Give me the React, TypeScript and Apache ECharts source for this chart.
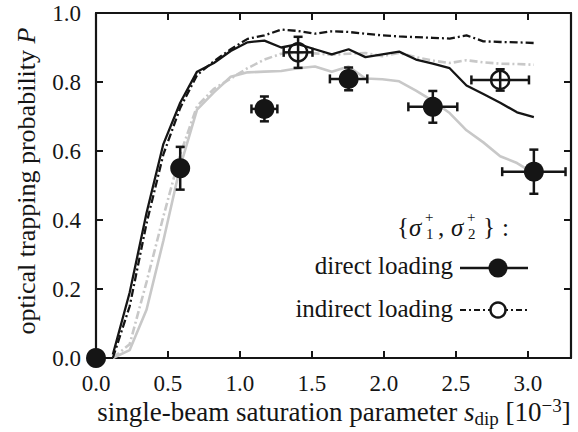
import React, { useEffect, useRef } from 'react';
import * as echarts from 'echarts';

const sGrid = [0.117, 0.234, 0.351, 0.468, 0.585, 0.702, 0.819, 0.936, 1.053, 1.17, 1.287, 1.404, 1.521, 1.638, 1.755, 1.872, 1.989, 2.106, 2.223, 2.34, 2.457, 2.574, 2.691, 2.808, 2.925, 3.042];
const blackSolid = [0.01, 0.19, 0.42, 0.62, 0.74, 0.83, 0.855, 0.89, 0.915, 0.92, 0.9, 0.91, 0.895, 0.88, 0.895, 0.872, 0.88, 0.888, 0.865, 0.853, 0.84, 0.79, 0.765, 0.74, 0.712, 0.698];
const blackDashDot = [0.0, 0.15, 0.39, 0.59, 0.725, 0.82, 0.86, 0.895, 0.925, 0.935, 0.952, 0.948, 0.94, 0.947, 0.945, 0.94, 0.935, 0.932, 0.93, 0.928, 0.926, 0.935, 0.918, 0.916, 0.915, 0.913];
const graySolid = [0.0, 0.023, 0.14, 0.34, 0.555, 0.72, 0.77, 0.815, 0.828, 0.83, 0.832, 0.84, 0.845, 0.83, 0.845, 0.81, 0.808, 0.802, 0.775, 0.745, 0.71, 0.66, 0.625, 0.585, 0.565, 0.535];
const grayDashDot = [0.0, 0.04, 0.22, 0.41, 0.59, 0.73, 0.78, 0.81, 0.84, 0.865, 0.882, 0.885, 0.883, 0.879, 0.882, 0.884, 0.875, 0.884, 0.872, 0.862, 0.855, 0.863, 0.857, 0.853, 0.852, 0.85];

// [s, P, sErr, PErr]
const directPoints = [
  [0.0, 0.0, 0, 0],
  [0.585, 0.55, 0.044, 0.062],
  [1.17, 0.722, 0.09, 0.036],
  [1.755, 0.809, 0.13, 0.033],
  [2.34, 0.728, 0.17, 0.046],
  [3.042, 0.54, 0.22, 0.064],
];
const indirectPoints = [
  [1.404, 0.886, 0.1, 0.045],
  [2.808, 0.806, 0.2, 0.031],
];

const xTicks = [0, 0.5, 1.0, 1.5, 2.0, 2.5, 3.0];
const yTicks = [0, 0.2, 0.4, 0.6, 0.8, 1.0];

const FONT = 'Liberation Serif';
const INK = '#151515';
const GRAY = '#c8c8c8';
const DASHDOT = [8, 3, 2, 3];

const pair = (xs: number[], ys: number[]) => xs.map((x, i) => [x, ys[i]]);
const tickFmt = (ticks: number[]) => (v: number) =>
  ticks.some((t) => Math.abs(t - v) < 1e-6) ? v.toFixed(1) : '';

export default function App() {
  const ref = useRef<HTMLDivElement>(null);
  useEffect(() => {
    if (!ref.current) return;
    const chart = echarts.init(ref.current, undefined, { renderer: 'svg' });

    const axisCommon = {
      type: 'value' as const,
      axisLine: { show: true, onZero: false, lineStyle: { color: INK, width: 2.2 } },
      axisTick: { show: true, inside: true, length: 7, lineStyle: { color: INK, width: 2 } },
      splitLine: { show: false },
    };

    const errorBars = (pts: number[][]) => ({
      type: 'custom',
      clip: false,
      z: 4,
      data: pts,
      renderItem: (params: any, api: any) => {
        const x = api.value(0), y = api.value(1), ex = api.value(2), ey = api.value(3);
        const cap = 4.5;
        const st = { stroke: INK, lineWidth: 2.5 };
        const children: any[] = [];
        if (ex > 0) {
          const l = api.coord([x - ex, y]);
          const r = api.coord([x + ex, y]);
          children.push({ type: 'line', shape: { x1: l[0], y1: l[1], x2: r[0], y2: r[1] }, style: st });
          children.push({ type: 'line', shape: { x1: l[0], y1: l[1] - cap, x2: l[0], y2: l[1] + cap }, style: st });
          children.push({ type: 'line', shape: { x1: r[0], y1: r[1] - cap, x2: r[0], y2: r[1] + cap }, style: st });
        }
        if (ey > 0) {
          const t = api.coord([x, y + ey]);
          const b = api.coord([x, y - ey]);
          children.push({ type: 'line', shape: { x1: t[0], y1: t[1], x2: b[0], y2: b[1] }, style: st });
          children.push({ type: 'line', shape: { x1: t[0] - cap, y1: t[1], x2: t[0] + cap, y2: t[1] }, style: st });
          children.push({ type: 'line', shape: { x1: b[0] - cap, y1: b[1], x2: b[0] + cap, y2: b[1] }, style: st });
        }
        return { type: 'group', children };
      },
    });

    const txt = (text: string, x: number, y: number, extra: any = {}) => ({
      type: 'text',
      x,
      y,
      z: 10,
      style: {
        text,
        fontFamily: FONT,
        fontSize: 25,
        fill: INK,
        textAlign: 'left',
        textVerticalAlign: 'middle',
        ...extra,
      },
    });

    chart.setOption({
      animation: false,
      backgroundColor: '#ffffff',
      grid: { left: 96, right: 7, top: 13, bottom: 74, containLabel: false },
      xAxis: [
        {
          ...axisCommon,
          min: 0,
          max: 3.3,
          interval: 0.5,
          position: 'bottom',
          axisLabel: { formatter: tickFmt(xTicks), fontFamily: FONT, fontSize: 23, color: INK, margin: 14 },
        },
        {
          ...axisCommon,
          min: 0,
          max: 3.3,
          interval: 0.5,
          position: 'top',
          axisLabel: { show: false },
        },
      ],
      yAxis: [
        {
          ...axisCommon,
          min: 0,
          max: 1,
          interval: 0.2,
          position: 'left',
          axisLabel: { formatter: tickFmt(yTicks), fontFamily: FONT, fontSize: 23, color: INK, margin: 15 },
        },
        {
          ...axisCommon,
          min: 0,
          max: 1,
          interval: 0.2,
          position: 'right',
          axisLabel: { show: false },
        },
      ],
      series: [
        {
          type: 'line', data: pair(sGrid, graySolid), showSymbol: false, z: 1,
          lineStyle: { color: GRAY, width: 2.6 },
        },
        {
          type: 'line', data: pair(sGrid, grayDashDot), showSymbol: false, z: 1,
          lineStyle: { color: GRAY, width: 2.6, type: DASHDOT },
        },
        {
          type: 'line', data: pair(sGrid, blackSolid), showSymbol: false, z: 2,
          lineStyle: { color: INK, width: 2.3 },
        },
        {
          type: 'line', data: pair(sGrid, blackDashDot), showSymbol: false, z: 2,
          lineStyle: { color: INK, width: 2.3, type: DASHDOT },
        },
        errorBars(directPoints),
        errorBars(indirectPoints),
        {
          type: 'scatter', data: directPoints.map((p) => [p[0], p[1]]), symbol: 'circle', symbolSize: 20,
          clip: false, z: 5, itemStyle: { color: INK, opacity: 1 },
        },
        {
          type: 'scatter', data: indirectPoints.map((p) => [p[0], p[1]]), symbol: 'circle', symbolSize: 18,
          clip: false, z: 5, itemStyle: { color: 'rgba(0,0,0,0)', borderColor: INK, borderWidth: 2.5, opacity: 1 },
        },
      ],
      graphic: [
        {
          type: 'text',
          x: 26,
          y: 181,
          rotation: Math.PI / 2,
          style: {
            text: 'optical trapping probability {i|P}',
            fontFamily: FONT,
            fontSize: 26,
            fill: INK,
            textAlign: 'center',
            textVerticalAlign: 'middle',
            rich: { i: { fontStyle: 'italic', fontFamily: FONT, fontSize: 26 } },
          },
        },
        {
          type: 'text',
          x: 334,
          y: 412,
          style: {
            text: 'single-beam saturation parameter {i|s}{sub|dip} [10{sup|−3}]',
            fontFamily: FONT,
            fontSize: 27,
            fill: INK,
            textAlign: 'center',
            textVerticalAlign: 'middle',
            lineHeight: 32,
            rich: {
              i: { fontStyle: 'italic', fontFamily: FONT, fontSize: 27, lineHeight: 32 },
              sub: { fontFamily: FONT, fontSize: 19, verticalAlign: 'bottom', lineHeight: 32 },
              sup: { fontFamily: FONT, fontSize: 19, verticalAlign: 'top', lineHeight: 32 },
            },
          },
        },
        // legend header {σ1+, σ2+}:
        txt('{', 397, 226),
        txt('σ', 409, 227, { fontStyle: 'italic' }),
        txt('+', 425, 217, { fontSize: 15, lineHeight: 15 }),
        txt('1', 426, 234, { fontSize: 15, lineHeight: 15 }),
        txt(',', 438, 227),
        txt('σ', 451, 227, { fontStyle: 'italic' }),
        txt('+', 467, 217, { fontSize: 15, lineHeight: 15 }),
        txt('2', 468, 234, { fontSize: 15, lineHeight: 15 }),
        txt('}', 483, 226),
        txt(':', 502, 227),
        txt('direct loading', 453, 265, { textAlign: 'right' }),
        txt('indirect loading', 453, 308, { textAlign: 'right' }),
        {
          type: 'line', z: 10,
          shape: { x1: 460, y1: 268, x2: 528, y2: 268 },
          style: { stroke: INK, lineWidth: 2.5 },
        },
        { type: 'circle', z: 11, shape: { cx: 498, cy: 268, r: 9.5 }, style: { fill: INK } },
        {
          type: 'line', z: 10,
          shape: { x1: 460, y1: 310, x2: 527, y2: 310 },
          style: { stroke: INK, lineWidth: 2, lineDash: [6, 3, 2, 3] },
        },
        {
          type: 'circle', z: 11, shape: { cx: 498, cy: 310, r: 7.5 },
          style: { fill: '#ffffff', stroke: INK, lineWidth: 2.5 },
        },
      ],
    });

    return () => chart.dispose();
  }, []);

  return <div ref={ref} style={{ width: 578, height: 432, position: 'absolute', left: 0, top: 0 }} />;
}
